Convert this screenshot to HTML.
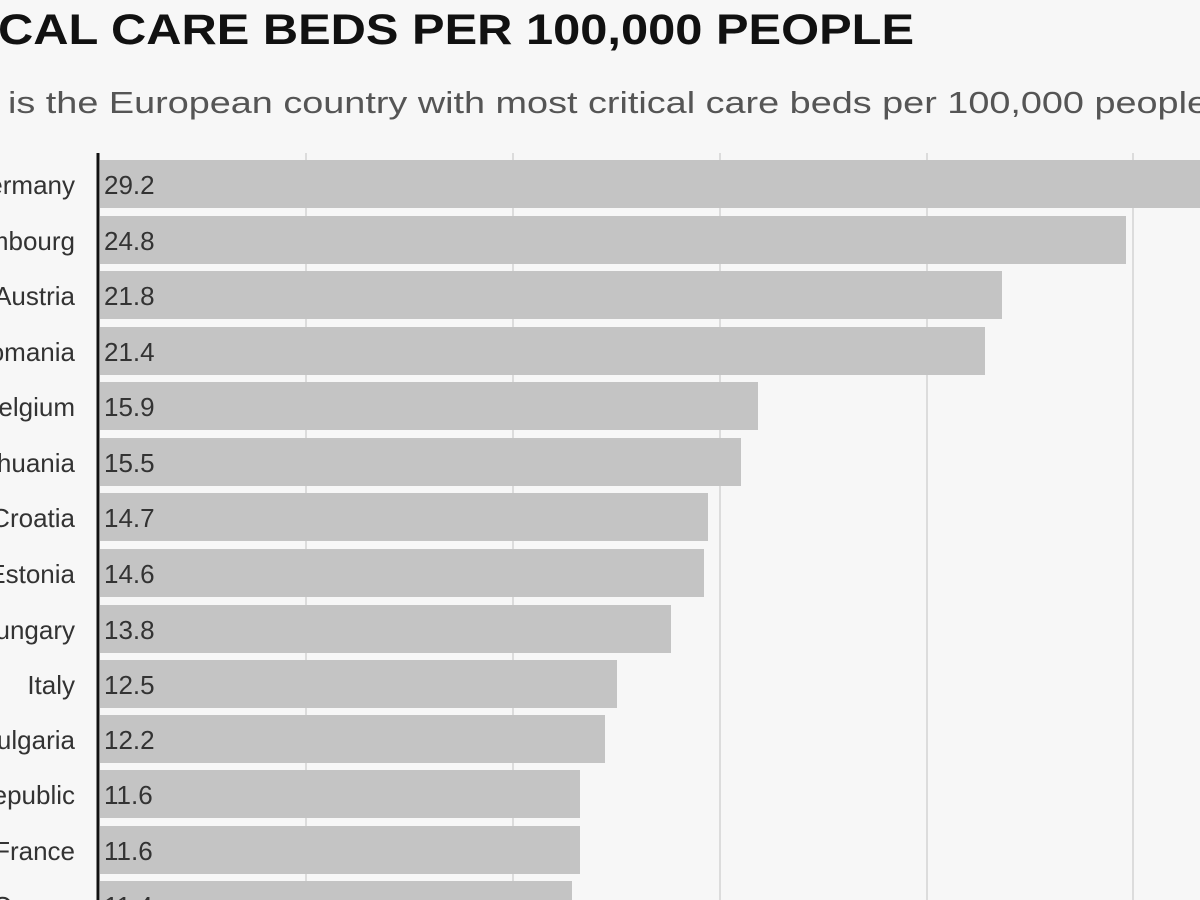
<!DOCTYPE html>
<html><head><meta charset="utf-8"><style>
html,body{margin:0;padding:0;background:#f7f7f7;overflow:hidden;}
svg{display:block}
</style></head><body>
<svg width="1200" height="900" viewBox="0 0 1200 900" xmlns="http://www.w3.org/2000/svg">
<rect width="1200" height="900" fill="#f7f7f7"/>
<text x="-2" y="44" font-family="Liberation Sans, sans-serif" font-weight="bold" font-size="43" fill="#111" textLength="916" lengthAdjust="spacingAndGlyphs">CAL CARE BEDS PER 100,000 PEOPLE</text>
<text x="8" y="113" font-family="Liberation Sans, sans-serif" font-size="31" fill="#555" textLength="1200" lengthAdjust="spacingAndGlyphs">is the European country with most critical care beds per 100,000 people</text>
<g stroke="#dcdcdc" stroke-width="2">
<line x1="306" y1="153" x2="306" y2="900"/>
<line x1="513" y1="153" x2="513" y2="900"/>
<line x1="720" y1="153" x2="720" y2="900"/>
<line x1="927" y1="153" x2="927" y2="900"/>
<line x1="1133" y1="153" x2="1133" y2="900"/>
</g>
<g fill="#c4c4c4">
<rect x="100" y="160" width="1108" height="48"/>
<rect x="100" y="216" width="1026" height="48"/>
<rect x="100" y="271" width="902" height="48"/>
<rect x="100" y="327" width="885" height="48"/>
<rect x="100" y="382" width="658" height="48"/>
<rect x="100" y="438" width="641" height="48"/>
<rect x="100" y="493" width="608" height="48"/>
<rect x="100" y="549" width="604" height="48"/>
<rect x="100" y="605" width="571" height="48"/>
<rect x="100" y="660" width="517" height="48"/>
<rect x="100" y="715" width="505" height="48"/>
<rect x="100" y="770" width="480" height="48"/>
<rect x="100" y="826" width="480" height="48"/>
<rect x="100" y="881" width="472" height="48"/>
</g>
<line x1="98" y1="153" x2="98" y2="900" stroke="#111" stroke-width="3"/>
<g font-family="Liberation Sans, sans-serif" font-size="26" fill="#333" text-anchor="end">
<text x="75" y="194">Germany</text>
<text x="75" y="250">Luxembourg</text>
<text x="75" y="305">Austria</text>
<text x="75" y="361">Romania</text>
<text x="75" y="416">Belgium</text>
<text x="75" y="472">Lithuania</text>
<text x="75" y="527">Croatia</text>
<text x="75" y="583">Estonia</text>
<text x="75" y="639">Hungary</text>
<text x="75" y="694">Italy</text>
<text x="75" y="749">Bulgaria</text>
<text x="75" y="804">Czech Republic</text>
<text x="75" y="860">France</text>
<text x="75" y="915">Cyprus</text>
</g>
<g font-family="Liberation Sans, sans-serif" font-size="26" fill="#333">
<text x="104" y="194">29.2</text>
<text x="104" y="250">24.8</text>
<text x="104" y="305">21.8</text>
<text x="104" y="361">21.4</text>
<text x="104" y="416">15.9</text>
<text x="104" y="472">15.5</text>
<text x="104" y="527">14.7</text>
<text x="104" y="583">14.6</text>
<text x="104" y="639">13.8</text>
<text x="104" y="694">12.5</text>
<text x="104" y="749">12.2</text>
<text x="104" y="804">11.6</text>
<text x="104" y="860">11.6</text>
<text x="104" y="915">11.4</text>
</g>
</svg>
</body></html>
